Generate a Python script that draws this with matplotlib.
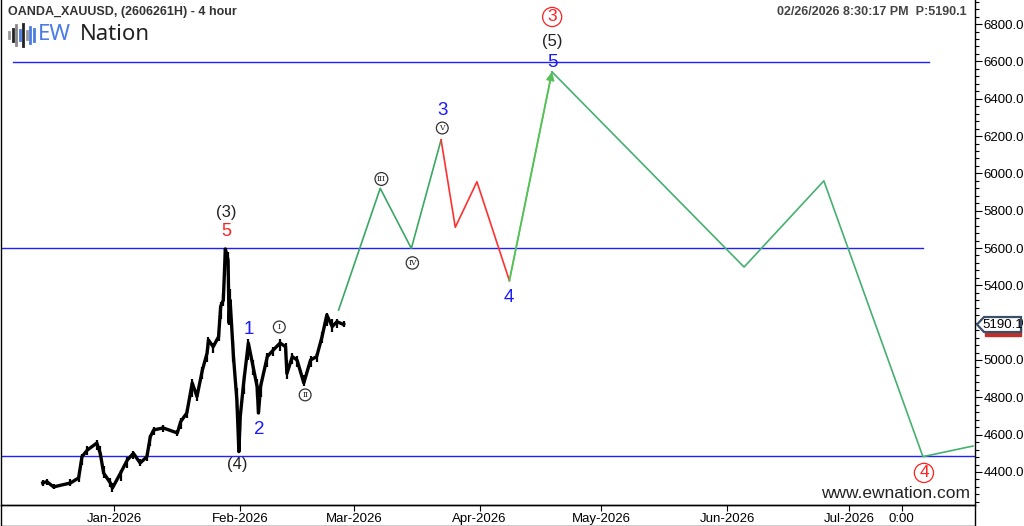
import matplotlib
matplotlib.use("Agg")
import matplotlib.pyplot as plt
import matplotlib.transforms as mtransforms
from matplotlib.patches import Polygon, Rectangle
from matplotlib.lines import Line2D
import pandas as pd

plt.rcParams['font.family'] = ['Liberation Sans', 'DejaVu Sans']

# ---------------- data ----------------
history_time = [
    "2025-12-14 08:00", "2025-12-15 08:00", "2025-12-17 00:00", "2025-12-21 04:00",
    "2025-12-23 04:00", "2025-12-24 00:00", "2025-12-25 08:00", "2025-12-27 16:00",
    "2025-12-28 12:00", "2025-12-29 08:00", "2025-12-31 00:00", "2025-12-31 12:00",
    "2026-01-02 12:00", "2026-01-04 04:00", "2026-01-05 16:00", "2026-01-07 08:00",
    "2026-01-09 00:00", "2026-01-09 20:00", "2026-01-10 16:00", "2026-01-13 00:00",
    "2026-01-16 12:00", "2026-01-17 08:00", "2026-01-18 20:00", "2026-01-20 04:00",
    "2026-01-21 08:00", "2026-01-22 16:00", "2026-01-23 20:00", "2026-01-24 04:00",
    "2026-01-25 08:00", "2026-01-26 16:00", "2026-01-27 04:00", "2026-01-27 20:00",
    "2026-01-28 08:00", "2026-01-29 00:00", "2026-01-29 06:00", "2026-01-29 12:00",
    "2026-01-30 08:00", "2026-01-31 04:00", "2026-01-31 16:00", "2026-02-01 00:00",
    "2026-02-01 20:00", "2026-02-03 00:00", "2026-02-04 04:00", "2026-02-05 04:00",
    "2026-02-05 12:00", "2026-02-06 00:00", "2026-02-07 16:00", "2026-02-09 04:00",
    "2026-02-10 20:00", "2026-02-12 04:00", "2026-02-12 12:00", "2026-02-13 20:00",
    "2026-02-15 00:00", "2026-02-16 16:00", "2026-02-18 08:00", "2026-02-19 20:00",
    "2026-02-21 04:00", "2026-02-22 08:00", "2026-02-23 16:00", "2026-02-24 20:00",
    "2026-02-26 12:00",
]
history_price = [
    4341, 4348, 4320, 4341, 4368, 4482, 4518, 4555, 4500, 4394, 4341, 4314,
    4394, 4464, 4500, 4448, 4482, 4589, 4625, 4636, 4609, 4670, 4716, 4877,
    4804, 4946, 5037, 5107, 5071, 5125, 5286, 5321, 5595, 5536, 5198, 5321,
    5018, 4786, 4509, 4696, 4877, 5091, 4964, 4857, 4716, 4857, 5018, 5054,
    5091, 5071, 4927, 5018, 5000, 4877, 5000, 5018, 5125, 5241, 5179, 5205,
    5190,
]
history_high = [
    4355, 4360, 4335, 4360, 4380, 4495, 4540, 4570, 4540, 4430, 4370, 4340,
    4410, 4480, 4515, 4470, 4500, 4600, 4640, 4650, 4625, 4690, 4740, 4900,
    4830, 4965, 5060, 5125, 5090, 5160, 5310, 5360, 5600, 5580, 5300, 5380,
    5100, 4850, 4600, 4720, 4920, 5110, 5000, 4900, 4800, 4880, 5040, 5070,
    5110, 5090, 5000, 5040, 5020, 4920, 5020, 5040, 5150, 5250, 5220, 5220,
    5210,
]
history_low = [
    4325, 4330, 4310, 4325, 4345, 4440, 4490, 4520, 4480, 4370, 4320, 4295,
    4350, 4420, 4470, 4430, 4460, 4540, 4600, 4615, 4595, 4630, 4690, 4800,
    4780, 4900, 4990, 5060, 5040, 5100, 5220, 5290, 5480, 5450, 5190, 5250,
    4990, 4740, 4505, 4620, 4820, 5000, 4920, 4800, 4710, 4800, 4960, 5020,
    5050, 5030, 4900, 4980, 4960, 4860, 4960, 4990, 5090, 5180, 5150, 5170,
    5175,
]

impulse_time = ["2026-02-25 06:00", "2026-03-07 12:00", "2026-03-15 04:00", "2026-03-22 12:00"]
impulse_price = [5268, 5920, 5598, 6180]

correction_time = ["2026-03-22 12:00", "2026-03-26 00:00", "2026-03-31 08:00", "2026-04-08 08:00"]
correction_price = [6180, 5711, 5955, 5425]

wave5_time = ["2026-04-08 08:00", "2026-04-18 20:00"]
wave5_price = [5425, 6544]

decline_time = ["2026-04-18 20:00", "2026-06-05 04:00", "2026-06-24 20:00",
                "2026-07-19 06:00", "2026-07-31 14:00"]
decline_price = [6544, 5498, 5960, 4482, 4539]

level_price = [6596, 5600, 4485]
level_start = ["2025-12-06 21:00", "2025-12-03 22:00", "2025-12-03 22:00"]
level_end = ["2026-07-20 17:00", "2026-07-19 06:00", "2026-08-01 02:00"]

last_price = 5190.1

tick_dates = ["2026-01-01", "2026-02-01", "2026-03-01", "2026-04-01",
              "2026-05-01", "2026-06-01", "2026-07-01", "2026-07-14"]
tick_labels = ["Jan-2026", "Feb-2026", "Mar-2026", "Apr-2026",
               "May-2026", "Jun-2026", "Jul-2026", "0:00"]

# ---------------- figure ----------------
W, H = 1024, 526
fig = plt.figure(figsize=(W / 100, H / 100), dpi=100)
ax = fig.add_axes([0.5 / W, 21 / H, 974.5 / W, 505 / H])

T = pd.to_datetime
ax.set_xlim(T("2025-12-03 22:00"), T("2026-08-01 02:00"))
ax.set_ylim(4223, 6929)

# levels
for p, s, e in zip(level_price, level_start, level_end):
    ax.plot([T(s), T(e)], [p, p], color='#1f1fff', lw=1.0, zorder=2)

# history (price path with bar ranges)
ht = T(history_time)
ax.vlines(ht, history_low, history_high, color='black', lw=1.6, zorder=4)
ax.plot(ht, history_price, color='black', lw=2.4, solid_joinstyle='round', zorder=4)

green = '#3aa864'
ax.plot(T(impulse_time), impulse_price, color=green, lw=1.2, zorder=3)
ax.plot(T(correction_time), correction_price, color='#ff3030', lw=1.2, zorder=3)
ax.plot(T(wave5_time), wave5_price, color='#66cc66', lw=1.2, zorder=3)
ax.annotate("", xy=(T(wave5_time[1]), wave5_price[1]),
            xytext=(T(wave5_time[0]), wave5_price[0]),
            arrowprops=dict(arrowstyle='-|>', color='#55c055', lw=1.2,
                            mutation_scale=12, shrinkA=0, shrinkB=0), zorder=3)
ax.plot(T(decline_time), decline_price, color='#45b070', lw=1.2, zorder=3)

# ---------------- axes styling ----------------
ax.spines['top'].set_visible(False)
for sp in ['left', 'right', 'bottom']:
    ax.spines[sp].set_color('black')
    ax.spines[sp].set_linewidth(1.0)

ax.yaxis.tick_right()
ax.yaxis.set_major_locator(plt.MultipleLocator(200))
ax.yaxis.set_minor_locator(plt.MultipleLocator(40))
ax.yaxis.set_major_formatter(plt.FuncFormatter(lambda v, p: f"{v:.1f}"))
ax.tick_params(axis='y', which='major', direction='out', length=5, width=0.8,
               labelsize=9.5, pad=1, colors='black')
ax.tick_params(axis='y', which='minor', direction='out', length=3, width=0.8)

ax.set_xticks(T(tick_dates))
ax.set_xticklabels(tick_labels, fontfamily=['Liberation Sans Narrow', 'Liberation Sans'])
ax.tick_params(axis='x', direction='out', length=4, width=0.8, labelsize=9.5, pad=2)
ax.set_facecolor('white')

# date box
fig.add_artist(Rectangle((0.5 / W, 0.5 / H), 974 / W, 20.5 / H, transform=fig.transFigure,
                         fill=False, ec='black', lw=1.0))

# ---------------- wave labels ----------------
def lab(t, p, s, color, size, **kw):
    ax.text(T(t), p, s, color=color, fontsize=size, ha='center', va='center', zorder=6, **kw)

blue = '#1a1aff'
lab("2026-01-28 14:00", 5793, "(3)", '#222222', 12)
lab("2026-01-28 14:00", 5686, "5", '#ff2020', 13)
lab("2026-02-03 00:00", 5166, "1", blue, 13.5)
lab("2026-02-05 17:00", 4630, "2", blue, 13.5)
lab("2026-01-31 07:00", 4438, "(4)", '#222222', 12)
lab("2026-03-22 19:00", 6339, "3", blue, 13.5)
lab("2026-04-08 07:00", 5337, "4", blue, 13.5)
lab("2026-04-18 21:00", 6704, "(5)", '#222222', 12)
lab("2026-04-18 21:00", 6596, "5", blue, 13.5)

def circ(t, p, s, color, size, pad, lw):
    ax.text(T(t), p, s, color=color, fontsize=size, ha='center', va='center', zorder=6,
            bbox=dict(boxstyle=f'circle,pad={pad}', fc='white', ec=color, lw=lw))

circ("2026-04-18 21:00", 6838, "3", '#ff2020', 12.5, 0.12, 0.9)
circ("2026-07-19 12:00", 4395, "4", '#ff2020', 12.5, 0.12, 0.9)

def roman(t, p, s):
    ax.text(T(t), p, s, color='#222222', fontsize=5.5, ha='center', va='center', zorder=6,
            fontfamily='DejaVu Serif',
            bbox=dict(boxstyle='circle,pad=0.25', fc='white', ec='#333333', lw=0.9))

roman("2026-02-10 15:00", 5177, "I")
roman("2026-02-17 00:00", 4813, "II")
roman("2026-03-07 19:00", 5970, "III")
roman("2026-03-15 10:00", 5520, "IV")
roman("2026-03-22 19:00", 6243, "V")

# ---------------- price tag ----------------
blend = mtransforms.blended_transform_factory(ax.transAxes, ax.transData)
tag_tr = fig.dpi_scale_trans + mtransforms.ScaledTranslation(1.0, last_price, blend)
fig.add_artist(Polygon([(0.10, -0.03), (0.46, -0.03), (0.46, -0.115), (0.10, -0.115)],
                       closed=True, transform=tag_tr, fc='#c0302a', ec='#c0302a',
                       clip_on=False, zorder=8))
fig.add_artist(Polygon([(0.02, 0.0), (0.09, 0.075), (0.46, 0.075), (0.46, -0.075),
                        (0.09, -0.075)], closed=True, transform=tag_tr,
                       fc='white', ec='#3a5068', lw=1.6, clip_on=False, zorder=9))
tag_text = fig.text(0.275, 0.0, f"{last_price:.1f}", transform=tag_tr, ha='center',
                    va='center', fontsize=9.5, color='black')
tag_text.set_zorder(11)

# ---------------- header texts ----------------
fig.text(8 / W, 1 - 12 / H, "OANDA_XAUUSD, (2606261H) - 4 hour", fontsize=9,
         fontweight='bold', color='#333333', ha='left', va='center')
fig.text(967 / W, 1 - 12 / H, "02/26/2026 8:30:17 PM  P:5190.1", fontsize=9,
         fontweight='bold', color='#444444', ha='right', va='center')
fig.text(970 / W, 1 - 494 / H, "www.ewnation.com", fontsize=12.5, color='#222222',
         ha='right', va='center')

# logo
bar_x = [9, 12.5, 16, 19.5, 23, 26.5, 30, 33.5]
bar_h = [6, 12, 20, 10, 22, 8, 16, 12]
bar_c = ['#999999', '#222222', '#888888', '#4b7be5', '#222222', '#999999', '#4b7be5', '#4b7be5']
for bx, bh, bc in zip(bar_x, bar_h, bar_c):
    fig.add_artist(Line2D([bx / W, bx / W], [1 - (35 - bh / 2) / H, 1 - (35 + bh / 2) / H],
                          transform=fig.transFigure, color=bc, lw=2.0))
fig.text(38 / W, 1 - 35 / H, "EW", fontsize=16, color='#4b7be5', ha='left', va='center',
         fontfamily='Noto Sans')
fig.text(80 / W, 1 - 35 / H, "Nation", fontsize=16, color='#222222', ha='left', va='center',
         fontfamily='Noto Sans')

fig.savefig("out.png", dpi=100, facecolor='white')
